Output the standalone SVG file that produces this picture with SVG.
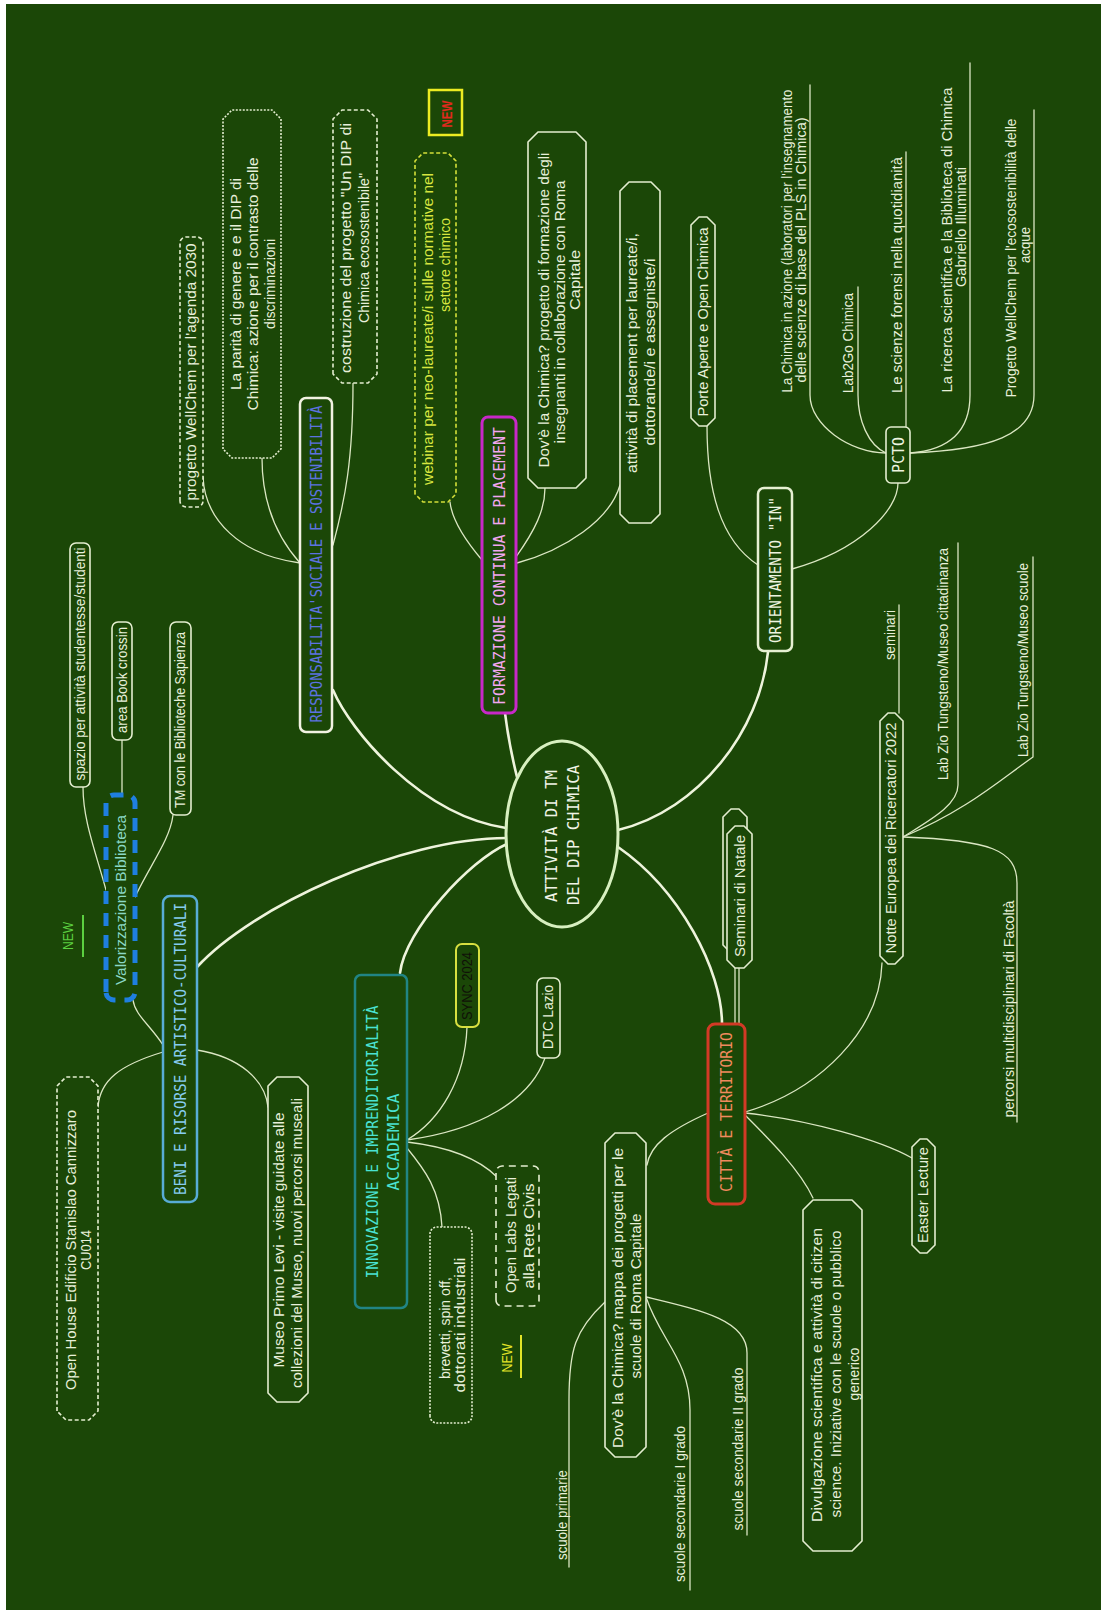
<svg xmlns="http://www.w3.org/2000/svg" width="1101" height="1610" viewBox="0 0 1101 1610">
<defs>
<style>
.ln{fill:none;stroke:#dbe7c3;stroke-width:1.3;stroke-linecap:round}
.lnb{fill:none;stroke:#eef4dc;stroke-width:2.6;stroke-linecap:round}
.bx{fill:#1b4707;stroke:#e4eed0;stroke-width:1.6;stroke-linejoin:round}
.dash{stroke-dasharray:4 2.5}
.dot{stroke-dasharray:2 1.5}
.t{font-family:"Liberation Sans","DejaVu Sans",sans-serif;font-size:14px;fill:#e8f0da;text-anchor:middle;dominant-baseline:central}
.tm{font-family:"DejaVu Sans Mono","Liberation Mono",monospace;font-size:16px;text-anchor:middle;dominant-baseline:central}
.yel{fill:#d8e640}
.red{fill:#e02a1e;font-weight:bold}
.grn{fill:#5cd040}
.ylw{fill:#e2e428}
.blk{fill:#101208}
.teal{fill:#8ad8c6}
</style>
</defs>
<rect width="1101" height="1610" fill="#ffffff"/>
<rect x="6" y="4" width="1095" height="1606" fill="#1b4707"/>
<!-- landscape frame: map is drawn left-to-right and turned to read bottom-to-top -->
<g transform="translate(0 1610) rotate(-90)">
<g id="connectors">
<!-- main branches -->
<path class="lnb" d="M920 333 C880 350 795 420 782 506"/>
<path class="lnb" d="M897 505 Q865 509 833 517"/>
<path class="lnb" d="M958 768 C880 760 800 700 780 618"/>
<path class="lnb" d="M586 722 C640 722 720 680 763 618"/>
<path class="lnb" d="M637 400 C680 405 750 470 766 507"/>
<path class="lnb" d="M643 197 C703 252 772 400 772 507"/>
<!-- responsabilita -->
<path class="ln" d="M1047 300 C1055 240 1090 205 1133 203"/>
<path class="ln" d="M1047 300 C1075 275 1110 262 1152 262"/>
<path class="ln" d="M1065 333 C1110 345 1150 353 1227 353"/>
<!-- formazione -->
<path class="ln" d="M1050 482 C1070 465 1090 452 1108 450"/>
<path class="ln" d="M1053 516 C1080 535 1100 545 1122 545"/>
<path class="ln" d="M1047 517 C1060 565 1090 610 1125 620"/>
<!-- orientamento -->
<path class="ln" d="M1045 758 C1070 720 1120 707 1184 707"/>
<path class="ln" d="M1041 792 C1060 860 1100 898 1127 898"/>
<!-- pcto -->
<path class="ln" d="M1157 886 C1157 850 1185 810 1215 810 L1525 810"/>
<path class="ln" d="M1157 886 C1165 868 1190 858 1215 858 L1323 858"/>
<path class="ln" d="M1183 906 L1458 906"/>
<path class="ln" d="M1157 910 C1160 950 1180 970 1215 970 L1547 970"/>
<path class="ln" d="M1157 910 C1160 990 1175 1034 1215 1034 L1500 1034"/>
<!-- beni -->
<path class="ln" d="M558 163 C545 120 530 100 503 98"/>
<path class="ln" d="M560 197 C553 240 530 265 503 268"/>
<path class="ln" d="M565 163 C585 150 595 135 610 133"/>
<!-- biblioteca -->
<path class="ln" d="M720 106 C760 95 790 83 823 83"/>
<path class="ln" d="M815 122 L870 122"/>
<path class="ln" d="M713 135 C745 150 770 170 795 173"/>
<!-- innovazione -->
<path class="ln" d="M470 407 C490 440 530 465 583 467"/>
<path class="ln" d="M470 407 C480 480 510 530 552 545"/>
<path class="ln" d="M468 407 C463 450 450 480 433 497"/>
<path class="ln" d="M462 407 C440 425 420 440 383 442"/>
<!-- citta -->
<path class="ln" d="M498 745 C520 820 580 880 647 882"/>
<path class="ln" d="M497 745 C490 810 470 880 452 912"/>
<path class="ln" d="M495 745 C470 770 440 800 412 813"/>
<path class="ln" d="M497 708 C480 670 465 650 445 647"/>
<path class="ln" d="M586 735 H642 M586 739 H642"/>
<!-- notte europea -->
<path class="ln" d="M897 899 L1005 899"/>
<path class="ln" d="M773 903 C790 930 805 958 825 958 L1067 958"/>
<path class="ln" d="M773 903 C800 967 830 1000 853 1033 L1053 1033"/>
<path class="ln" d="M773 903 C770 990 760 1017 727 1017 L488 1017"/>
<!-- mappa scuole -->
<path class="ln" d="M308 605 C280 575 260 569 210 569 L43 569"/>
<path class="ln" d="M313 646 C270 660 250 690 200 690 L20 690"/>
<path class="ln" d="M313 646 C300 700 290 747 257 747 L75 747"/>
</g>

<g id="n-center">
<ellipse cx="776" cy="562" rx="93" ry="56" fill="#1b4707" stroke="#d8f0c0" stroke-width="3"/>
<text class="tm" x="774" y="551" font-size="17" fill="#f0f4e6" textLength="132" lengthAdjust="spacingAndGlyphs">ATTIVITÀ DI TM</text>
<text class="tm" x="775" y="573" font-size="17" fill="#f0f4e6" textLength="140" lengthAdjust="spacingAndGlyphs">DEL DIP CHIMICA</text>
</g>

<g id="n-resp">
<rect x="878" y="300" width="334" height="32" rx="6" fill="#1b4707" stroke="#f2f2e2" stroke-width="2.5"/>
<text class="tm" x="1046" y="316" fill="#5d72e0" textLength="317" lengthAdjust="spacingAndGlyphs">RESPONSABILITA'SOCIALE E SOSTENIBILITÀ</text>
</g>
<g id="n-wellchem2030">
<rect class="bx dash" x="1103" y="180" width="270" height="23" rx="6"/>
<text class="t" x="1238" y="191" textLength="257" lengthAdjust="spacingAndGlyphs">progetto WellChem per l'agenda 2030</text>
</g>
<g id="n-parita">
<path class="bx dot" d="M1161 223 H1491 L1500 232 V272 L1491 281 H1161 L1152 272 V232 Z"/>
<text class="t" x="1326" y="236" textLength="212" lengthAdjust="spacingAndGlyphs">La parità di genere e e il DIP di</text>
<text class="t" x="1326" y="253" textLength="253" lengthAdjust="spacingAndGlyphs">Chimica: azione per il contrasto delle</text>
<text class="t" x="1326" y="270" textLength="90" lengthAdjust="spacingAndGlyphs">discriminazioni</text>
</g>
<g id="n-costruzione">
<path class="bx dash" d="M1236 333 H1491 L1500 342 V368 L1491 377 H1236 L1227 368 V342 Z"/>
<text class="t" x="1362" y="346" textLength="250" lengthAdjust="spacingAndGlyphs">costruzione del progetto "Un DIP di</text>
<text class="t" x="1362" y="364" textLength="150" lengthAdjust="spacingAndGlyphs">Chimica ecosostenibile"</text>
</g>

<g id="n-formazione">
<rect x="897" y="482" width="296" height="34" rx="6" fill="#1b4707" stroke="#c828c8" stroke-width="3"/>
<text class="tm" x="1044" y="499" fill="#f2a6f0" textLength="278" lengthAdjust="spacingAndGlyphs">FORMAZIONE CONTINUA E PLACEMENT</text>
</g>
<g id="n-webinar">
<path class="bx dash" style="stroke:#d4e03a" d="M1116 415 H1449 L1457 423 V448 L1449 456 H1116 L1108 448 V423 Z"/>
<text class="t yel" x="1281" y="428" textLength="312" lengthAdjust="spacingAndGlyphs">webinar per neo-laureate/i sulle normative nel</text>
<text class="t yel" x="1345" y="445" textLength="94" lengthAdjust="spacingAndGlyphs">settore chimico</text>
</g>
<g id="n-new-red">
<rect x="1475" y="429" width="45" height="33" fill="none" stroke="#ecec22" stroke-width="2.5"/>
<text class="t red" x="1496" y="447" textLength="27" lengthAdjust="spacingAndGlyphs">NEW</text>
</g>
<g id="n-dove-form">
<path class="bx" d="M1132 528 H1468 L1478 538 V576 L1468 586 H1132 L1122 576 V538 Z"/>
<text class="t" x="1300" y="544" textLength="315" lengthAdjust="spacingAndGlyphs">Dov'è la Chimica? progetto di formazione degli</text>
<text class="t" x="1298" y="560" textLength="263" lengthAdjust="spacingAndGlyphs">insegnanti in collaborazione con Roma</text>
<text class="t" x="1330" y="575" textLength="60" lengthAdjust="spacingAndGlyphs">Capitale</text>
</g>
<g id="n-placement">
<path class="bx" d="M1096 620 H1419 L1428 629 V651 L1419 660 H1096 L1087 651 V629 Z"/>
<text class="t" x="1257" y="632" textLength="240" lengthAdjust="spacingAndGlyphs">attività di placement per laureate/i,</text>
<text class="t" x="1258" y="650" textLength="187" lengthAdjust="spacingAndGlyphs">dottorande/i e assegniste/i</text>
</g>

<g id="n-orient">
<rect x="959" y="758" width="163" height="34" rx="6" fill="#1b4707" stroke="#e6f0d2" stroke-width="2.5"/>
<text class="tm" x="1040" y="775" fill="#eef4e0" textLength="146" lengthAdjust="spacingAndGlyphs">ORIENTAMENTO "IN"</text>
</g>
<g id="n-porte">
<path class="bx" d="M1192 691 H1385 L1393 699 V707 L1385 715 H1192 L1184 707 V699 Z"/>
<text class="t" x="1288" y="703" textLength="189" lengthAdjust="spacingAndGlyphs">Porte Aperte e Open Chimica</text>
</g>
<g id="n-pcto">
<rect class="bx" x="1127" y="886" width="56" height="24" rx="5"/>
<text class="tm" x="1155" y="898" fill="#eef4e0" font-size="15" textLength="36" lengthAdjust="spacingAndGlyphs">PCTO</text>
</g>
<g id="n-chimica-azione">
<text class="t" x="1369" y="787" textLength="303" lengthAdjust="spacingAndGlyphs">La Chimica in azione (laboratori per l'insegnamento</text>
<text class="t" x="1360" y="801" textLength="265" lengthAdjust="spacingAndGlyphs">delle scienze di base del PLS in Chimica)</text>
</g>
<g id="n-lab2go">
<text class="t" x="1267" y="848" textLength="100" lengthAdjust="spacingAndGlyphs">Lab2Go Chimica</text>
</g>
<g id="n-forensi">
<text class="t" x="1335" y="897" textLength="236" lengthAdjust="spacingAndGlyphs">Le scienze forensi nella quotidianità</text>
</g>
<g id="n-ricerca">
<text class="t" x="1370" y="947" textLength="305" lengthAdjust="spacingAndGlyphs">La ricerca scientifica e la Biblioteca di Chimica</text>
<text class="t" x="1383" y="961" textLength="120" lengthAdjust="spacingAndGlyphs">Gabriello Illuminati</text>
</g>
<g id="n-wellchem-acque">
<text class="t" x="1352" y="1011" textLength="279" lengthAdjust="spacingAndGlyphs">Progetto WellChem per l'ecosostenibilità delle</text>
<text class="t" x="1365" y="1025" textLength="36" lengthAdjust="spacingAndGlyphs">acque</text>
</g>

<g id="n-beni">
<rect x="408" y="163" width="306" height="34" rx="7" fill="#1b4707" stroke="#58acd6" stroke-width="2.5"/>
<text class="tm" x="561" y="180" fill="#86ccf0" textLength="292" lengthAdjust="spacingAndGlyphs">BENI E RISORSE ARTISTICO-CULTURALI</text>
</g>
<g id="n-openhouse">
<path class="bx dash" d="M199 57 H524 L533 66 V89 L524 98 H199 L190 89 V66 Z"/>
<text class="t" x="360" y="71" textLength="280" lengthAdjust="spacingAndGlyphs">Open House Edificio Stanislao Cannizzaro</text>
<text class="t" x="360" y="86" textLength="40" lengthAdjust="spacingAndGlyphs">CU014</text>
</g>
<g id="n-museo">
<path class="bx" d="M217 268 H524 L533 277 V299 L524 308 H217 L208 299 V277 Z"/>
<text class="t" x="370" y="279" textLength="255" lengthAdjust="spacingAndGlyphs">Museo Primo Levi - visite guidate alle</text>
<text class="t" x="367" y="297" textLength="290" lengthAdjust="spacingAndGlyphs">collezioni del Museo, nuovi percorsi museali</text>
</g>
<g id="n-biblioteca">
<rect x="610" y="106" width="205" height="29" rx="8" fill="#1b4707" stroke="#1f7fe0" stroke-width="5" stroke-dasharray="13 9"/>
<text class="t teal" x="710" y="121" textLength="170" lengthAdjust="spacingAndGlyphs">Valorizzazione Biblioteca</text>
</g>
<g id="n-new-green">
<text class="t grn" x="674" y="68" textLength="28" lengthAdjust="spacingAndGlyphs">NEW</text>
<path d="M653 83 H695" stroke="#5cd040" stroke-width="2"/>
</g>
<g id="n-spazio">
<rect class="bx" x="823" y="70" width="244" height="20" rx="6"/>
<text class="t" x="946" y="80" textLength="233" lengthAdjust="spacingAndGlyphs">spazio per attività studentesse/studenti</text>
</g>
<g id="n-bookcrossin">
<rect class="bx" x="870" y="112" width="118" height="20" rx="6"/>
<text class="t" x="930" y="122" textLength="106" lengthAdjust="spacingAndGlyphs">area Book crossin</text>
</g>
<g id="n-tm-sapienza">
<rect class="bx" x="795" y="170" width="193" height="21" rx="6"/>
<text class="t" x="890" y="180" textLength="176" lengthAdjust="spacingAndGlyphs">TM con le Biblioteche Sapienza</text>
</g>

<g id="n-innov">
<rect x="302" y="355" width="333" height="52" rx="6" fill="#1b4707" stroke="#218585" stroke-width="2.5"/>
<text class="tm" x="468" y="372" fill="#4ae2d2" textLength="273" lengthAdjust="spacingAndGlyphs">INNOVAZIONE E IMPRENDITORIALITÀ</text>
<text class="tm" x="468" y="393" fill="#4ae2d2" textLength="97" lengthAdjust="spacingAndGlyphs">ACCADEMICA</text>
</g>
<g id="n-sync">
<rect x="583" y="456" width="83" height="23" rx="6" fill="#1b4707" stroke="#d8e040" stroke-width="2"/>
<text class="t blk" x="624" y="467" textLength="68" lengthAdjust="spacingAndGlyphs">SYNC 2024</text>
</g>
<g id="n-dtc">
<rect class="bx" x="552" y="537" width="80" height="23" rx="6"/>
<text class="t" x="593" y="548" textLength="64" lengthAdjust="spacingAndGlyphs">DTC Lazio</text>
</g>
<g id="n-openlabs">
<rect class="bx" x="304" y="496" width="140" height="43" rx="6" stroke-dasharray="7 5"/>
<text class="t" x="375" y="511" textLength="116" lengthAdjust="spacingAndGlyphs">Open Labs Legati</text>
<text class="t" x="374" y="529" textLength="105" lengthAdjust="spacingAndGlyphs">alla Rete Civis</text>
</g>
<g id="n-new-yellow">
<text class="t ylw" x="252" y="507" textLength="29" lengthAdjust="spacingAndGlyphs">NEW</text>
<path d="M232 521 H275" stroke="#e2e428" stroke-width="2"/>
</g>
<g id="n-brevetti">
<rect class="bx dot" x="187" y="430" width="196" height="42" rx="7"/>
<text class="t" x="282" y="445" textLength="102" lengthAdjust="spacingAndGlyphs">brevetti, spin off,</text>
<text class="t" x="285" y="460" textLength="135" lengthAdjust="spacingAndGlyphs">dottorati industriali</text>
</g>

<g id="n-citta">
<rect x="406" y="708" width="180" height="37" rx="7" fill="#1b4707" stroke="#d23a26" stroke-width="3"/>
<text class="tm" x="498" y="726" fill="#f08a5e" textLength="160" lengthAdjust="spacingAndGlyphs">CITTÀ E TERRITORIO</text>
</g>
<g id="n-seminari-natale">
<path class="bx" d="M665 723 H793 L801 731 V739 L793 747 H665 L657 739 V731 Z"/>
<path class="bx" d="M650 727 H776 L784 735 V744 L776 752 H650 L642 744 V735 Z"/>
<text class="t" x="714" y="740" textLength="122" lengthAdjust="spacingAndGlyphs">Seminari di Natale</text>
</g>
<g id="n-notte">
<path class="bx" d="M654 880 H889 L897 888 V895 L889 903 H654 L646 895 V888 Z"/>
<text class="t" x="772" y="891" textLength="231" lengthAdjust="spacingAndGlyphs">Notte Europea dei Ricercatori 2022</text>
</g>
<g id="n-seminari">
<text class="t" x="975" y="890" textLength="50" lengthAdjust="spacingAndGlyphs">seminari</text>
</g>
<g id="n-zio-citt">
<text class="t" x="946" y="943" textLength="232" lengthAdjust="spacingAndGlyphs">Lab Zio Tungsteno/Museo cittadinanza</text>
</g>
<g id="n-zio-scuole">
<text class="t" x="950" y="1023" textLength="194" lengthAdjust="spacingAndGlyphs">Lab Zio Tungsteno/Museo scuole</text>
</g>
<g id="n-percorsi">
<text class="t" x="601" y="1009" textLength="217" lengthAdjust="spacingAndGlyphs">percorsi multidisciplinari di Facoltà</text>
</g>
<g id="n-easter">
<path class="bx" d="M365 912 H463 L471 920 V927 L463 935 H365 L357 927 V920 Z"/>
<text class="t" x="415" y="923" textLength="96" lengthAdjust="spacingAndGlyphs">Easter Lecture</text>
</g>
<g id="n-divulgazione">
<path class="bx" d="M69 803 H400 L410 813 V852 L400 862 H69 L59 852 V813 Z"/>
<text class="t" x="235" y="817" textLength="294" lengthAdjust="spacingAndGlyphs">Divulgazione scientifica e attività di citizen</text>
<text class="t" x="236" y="836" textLength="287" lengthAdjust="spacingAndGlyphs">science. Iniziative con le scuole o pubblico</text>
<text class="t" x="236" y="854" textLength="53" lengthAdjust="spacingAndGlyphs">generico</text>
</g>
<g id="n-dove-mappa">
<path class="bx" d="M163 605 H467 L477 615 V636 L467 646 H163 L153 636 V615 Z"/>
<text class="t" x="312" y="618" textLength="300" lengthAdjust="spacingAndGlyphs">Dov'è la Chimica? mappa dei progetti per le</text>
<text class="t" x="314" y="636" textLength="165" lengthAdjust="spacingAndGlyphs">scuole di Roma Capitale</text>
</g>
<g id="n-primarie">
<text class="t" x="95" y="562" textLength="90" lengthAdjust="spacingAndGlyphs">scuole primarie</text>
</g>
<g id="n-secondarie1">
<text class="t" x="106" y="680" textLength="156" lengthAdjust="spacingAndGlyphs">scuole secondarie I grado</text>
</g>
<g id="n-secondarie2">
<text class="t" x="161" y="738" textLength="163" lengthAdjust="spacingAndGlyphs">scuole secondarie II grado</text>
</g>
</g>
</svg>
